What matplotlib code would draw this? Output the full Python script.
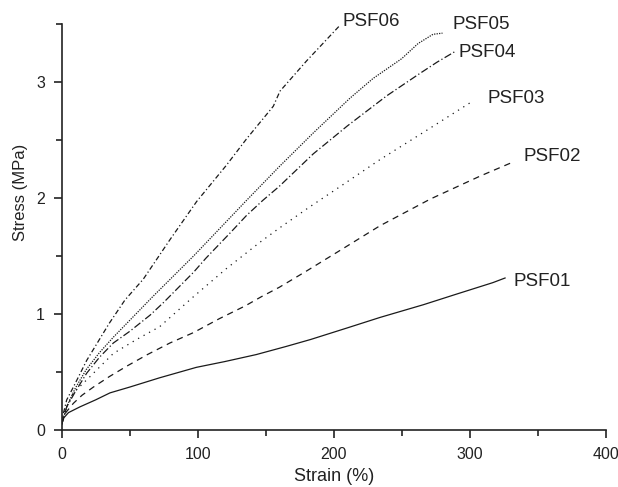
import matplotlib
matplotlib.use('Agg')
import matplotlib.pyplot as plt
from matplotlib.ticker import MultipleLocator

plt.rcParams['font.family'] = ['Liberation Sans', 'DejaVu Sans']

# strain (%) / stress (MPa)
psf01_x = [0, 1.2, 5, 13.5, 25, 35.5, 50, 72, 99, 120, 143, 165, 183, 210, 234, 266, 290, 317, 326]
psf01_y = [0.05, 0.10, 0.15, 0.20, 0.26, 0.32, 0.37, 0.45, 0.54, 0.59, 0.65, 0.72, 0.78, 0.88, 0.97, 1.08, 1.17, 1.27, 1.31]

psf02_x = [0, 3, 8.6, 15, 23.3, 35, 47.8, 63, 79.6, 97, 116, 135, 147, 160, 180, 205, 234, 271, 308, 332]
psf02_y = [0.05, 0.15, 0.23, 0.30, 0.37, 0.46, 0.55, 0.65, 0.75, 0.84, 0.96, 1.07, 1.15, 1.23, 1.37, 1.55, 1.76, 1.99, 2.19, 2.31]

psf03_x = [0, 1.2, 8.6, 20.8, 38, 55, 72, 97, 121, 146, 160, 182, 205, 234, 268, 303]
psf03_y = [0.05, 0.14, 0.32, 0.46, 0.66, 0.78, 0.89, 1.15, 1.39, 1.62, 1.74, 1.92, 2.10, 2.33, 2.58, 2.84]

psf04_x = [0, 3.7, 10, 18.4, 28, 38, 50, 65, 75, 97, 106, 124, 136, 148, 160, 185, 210, 239, 263, 276, 289]
psf04_y = [0.05, 0.20, 0.33, 0.49, 0.63, 0.75, 0.85, 0.99, 1.10, 1.36, 1.48, 1.70, 1.85, 1.98, 2.10, 2.38, 2.62, 2.88, 3.07, 3.17, 3.26]

psf05_x = [0, 4, 10, 18, 28, 38, 67, 97, 136, 160, 185, 212, 229, 250, 262, 273, 280]
psf05_y = [0.05, 0.21, 0.36, 0.52, 0.67, 0.80, 1.15, 1.50, 1.98, 2.27, 2.56, 2.86, 3.03, 3.20, 3.33, 3.41, 3.42]

psf06_x = [0, 1.2, 3.7, 8.6, 18.4, 35, 46.5, 60, 79.6, 99.3, 121, 136, 155.6, 160.5, 180, 204]
psf06_y = [0.05, 0.14, 0.26, 0.37, 0.60, 0.92, 1.12, 1.30, 1.64, 1.97, 2.28, 2.51, 2.79, 2.92, 3.18, 3.48]

names = ['PSF01', 'PSF02', 'PSF03', 'PSF04', 'PSF05', 'PSF06']
xs = [psf01_x, psf02_x, psf03_x, psf04_x, psf05_x, psf06_x]
ys = [psf01_y, psf02_y, psf03_y, psf04_y, psf05_y, psf06_y]

styles = ['-', (0, (5, 4)), (0, (1, 4)), (0, (6, 2, 1, 2)), (0, (1, 1)), (0, (4, 2, 1, 2))]
# label offsets from curve end, in pixels
offsets = [(8, -3), (10, 5), (14, 2), (4, -1), (10, 9), (3, 5)]

fig = plt.figure(figsize=(6.18, 4.87), dpi=100)
ax = fig.add_axes([0.0998, 0.117, 0.8803, 0.834])

for x, y, ls, name, off in zip(xs, ys, styles, names, offsets):
    ax.plot(x, y, color='#1a1a1a', lw=0.9, linestyle=ls)
    ax.annotate(name, xy=(x[-1], y[-1]), xytext=off, textcoords='offset pixels',
                ha='left', va='center', fontsize=13.5, color='#222222')

ax.set_xlim(0, 400)
ax.set_ylim(0, 3.5)
ax.xaxis.set_major_locator(MultipleLocator(100))
ax.xaxis.set_minor_locator(MultipleLocator(50))
ax.yaxis.set_major_locator(MultipleLocator(1))
ax.yaxis.set_minor_locator(MultipleLocator(0.5))

for s in ['top', 'right']:
    ax.spines[s].set_visible(False)
for s in ['left', 'bottom']:
    ax.spines[s].set_linewidth(1.2)
    ax.spines[s].set_color('#222222')

ax.tick_params(which='major', direction='out', length=6, width=1.2, pad=6,
               labelsize=11.5, colors='#222222')
ax.tick_params(which='minor', direction='out', length=4, width=1.2, colors='#222222')

ax.set_xlabel('Strain (%)', fontsize=13, color='#222222')
ax.set_ylabel('Stress (MPa)', fontsize=12, color='#222222')
ax.xaxis.set_label_coords(0.5, -0.094)
ax.yaxis.set_label_coords(-0.062, 0.586)

fig.savefig('out.png', dpi=100)
